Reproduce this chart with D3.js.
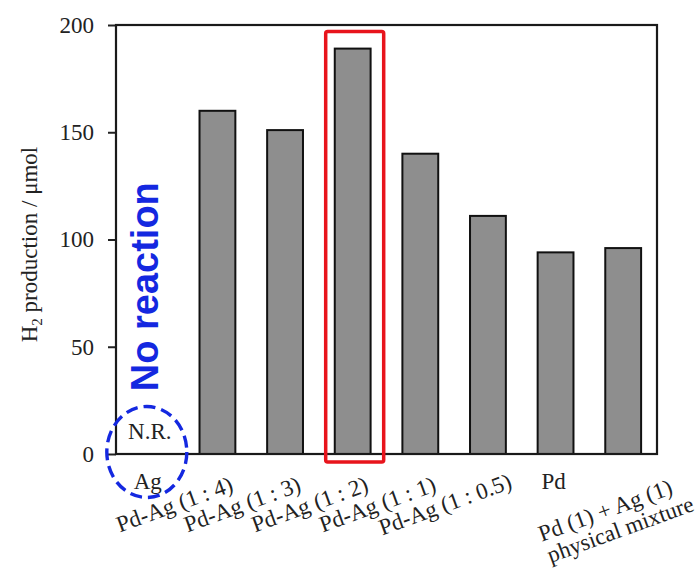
<!DOCTYPE html>
<html>
<head>
<meta charset="utf-8">
<script src="https://cdn.jsdelivr.net/npm/d3@7"></script>
<style>
  body { margin: 0; background: #fff; }
  svg { display: block; font-family: "Liberation Serif", "Times New Roman", serif; }
</style>
</head>
<body>
<div id="chart"></div>
<script>
// data
const categories = ["Ag", "Pd-Ag (1 : 4)", "Pd-Ag (1 : 3)", "Pd-Ag (1 : 2)", "Pd-Ag (1 : 1)", "Pd-Ag (1 : 0.5)", "Pd", "Pd (1) + Ag (1)"];
const h2Values = [0, 160, 151, 189, 140, 111, 94, 96];
const yTicks = [0, 50, 100, 150, 200];
const flatLabels = ["Ag", "Pd"];
const mixtureSecondLine = "physical mixture";
const highlighted = "Pd-Ag (1 : 2)";

const W = 699, H = 575;
const margin = {top: 25, right: 42, bottom: 121, left: 116};
const width = W - margin.left - margin.right;
const height = H - margin.top - margin.bottom;

const svg = d3.select("#chart").append("svg")
  .attr("width", W)
  .attr("height", H);

const g = svg.append("g")
  .attr("transform", `translate(${margin.left},${margin.top})`);

const x = d3.scaleBand()
  .domain(categories)
  .range([0, width])
  .paddingInner(0.47)
  .paddingOuter(0.235);

const y = d3.scaleLinear()
  .domain([0, 200])
  .range([height, 0]);

// bars (Ag gave no reaction, so no bar)
g.selectAll(".bar")
  .data(categories.map((c, i) => ({c: c, v: h2Values[i]})).filter(d => d.v > 0))
  .enter().append("rect")
  .attr("class", "bar")
  .attr("x", d => x(d.c))
  .attr("y", d => y(d.v))
  .attr("width", x.bandwidth())
  .attr("height", d => height - y(d.v))
  .attr("fill", "#8e8e8e")
  .attr("stroke", "#111")
  .attr("stroke-width", 2);

// y axis
const yAxis = g.append("g")
  .call(d3.axisLeft(y).tickValues(yTicks).tickSize(8).tickPadding(14));
yAxis.select(".domain").remove();
yAxis.selectAll(".tick line").attr("stroke", "#222").attr("stroke-width", 2);
yAxis.selectAll(".tick text")
  .attr("font-family", "Liberation Serif")
  .attr("font-size", 23)
  .attr("fill", "#222");

// frame
g.append("rect")
  .attr("width", width)
  .attr("height", height)
  .attr("fill", "none")
  .attr("stroke", "#1a1a1a")
  .attr("stroke-width", 2.2);

// y label
svg.append("text")
  .attr("transform", `translate(37,${margin.top + height / 2 + 5}) rotate(-90)`)
  .attr("text-anchor", "middle")
  .attr("font-size", 23)
  .attr("fill", "#222")
  .html('H<tspan font-size="15" dy="5">2</tspan><tspan dy="-5"> production / \u03bcmol</tspan>');

// category labels, most of them slanted
const labels = g.append("g");
function slanted(txt, px, py) {
  labels.append("text")
    .attr("x", px)
    .attr("y", py)
    .attr("transform", `rotate(-20,${px},${py})`)
    .attr("text-anchor", "middle")
    .attr("dy", "0.35em")
    .attr("font-size", 23)
    .attr("fill", "#222")
    .text(txt);
}
categories.forEach(c => {
  const cx = x(c) + x.bandwidth() / 2;
  if (flatLabels.includes(c)) {
    labels.append("text")
      .attr("x", cx - 2)
      .attr("y", height + 35)
      .attr("text-anchor", "middle")
      .attr("font-size", 23)
      .attr("fill", "#222")
      .text(c);
  } else if (c === categories[categories.length - 1]) {
    slanted(c, cx - 18, 510 - margin.top);
    slanted(mixtureSecondLine, cx - 3, 529 - margin.top);
  } else {
    slanted(c, cx - 43, 504 - margin.top);
  }
});

// N.R. marker for Ag
const ag = x(categories[0]) + x.bandwidth() / 2;
g.append("text")
  .attr("x", ag)
  .attr("y", height - 15)
  .attr("text-anchor", "middle")
  .attr("font-size", 23)
  .attr("fill", "#222")
  .text("N.R.");

g.append("ellipse")
  .attr("cx", ag - 3)
  .attr("cy", height - 2)
  .attr("rx", 40)
  .attr("ry", 45.5)
  .attr("fill", "none")
  .attr("stroke", "#1428e0")
  .attr("stroke-width", 3.4)
  .attr("stroke-dasharray", "12 6");

g.append("text")
  .attr("transform", `translate(${ag + 8},${y(78)}) rotate(-90)`)
  .attr("text-anchor", "middle")
  .attr("font-family", "Liberation Sans, Arial, sans-serif")
  .attr("font-weight", "bold")
  .attr("font-size", 38)
  .attr("fill", "#1428e0")
  .text("No reaction");

// red highlight box round the best catalyst
const hx = x(highlighted) + x.bandwidth() / 2;
g.append("rect")
  .attr("x", hx - 27)
  .attr("y", y(h2Values[categories.indexOf(highlighted)]) - 17)
  .attr("width", 58)
  .attr("height", height - y(h2Values[categories.indexOf(highlighted)]) + 25)
  .attr("rx", 2)
  .attr("fill", "none")
  .attr("stroke", "#e8141c")
  .attr("stroke-width", 3.5);
</script>
</body>
</html>
